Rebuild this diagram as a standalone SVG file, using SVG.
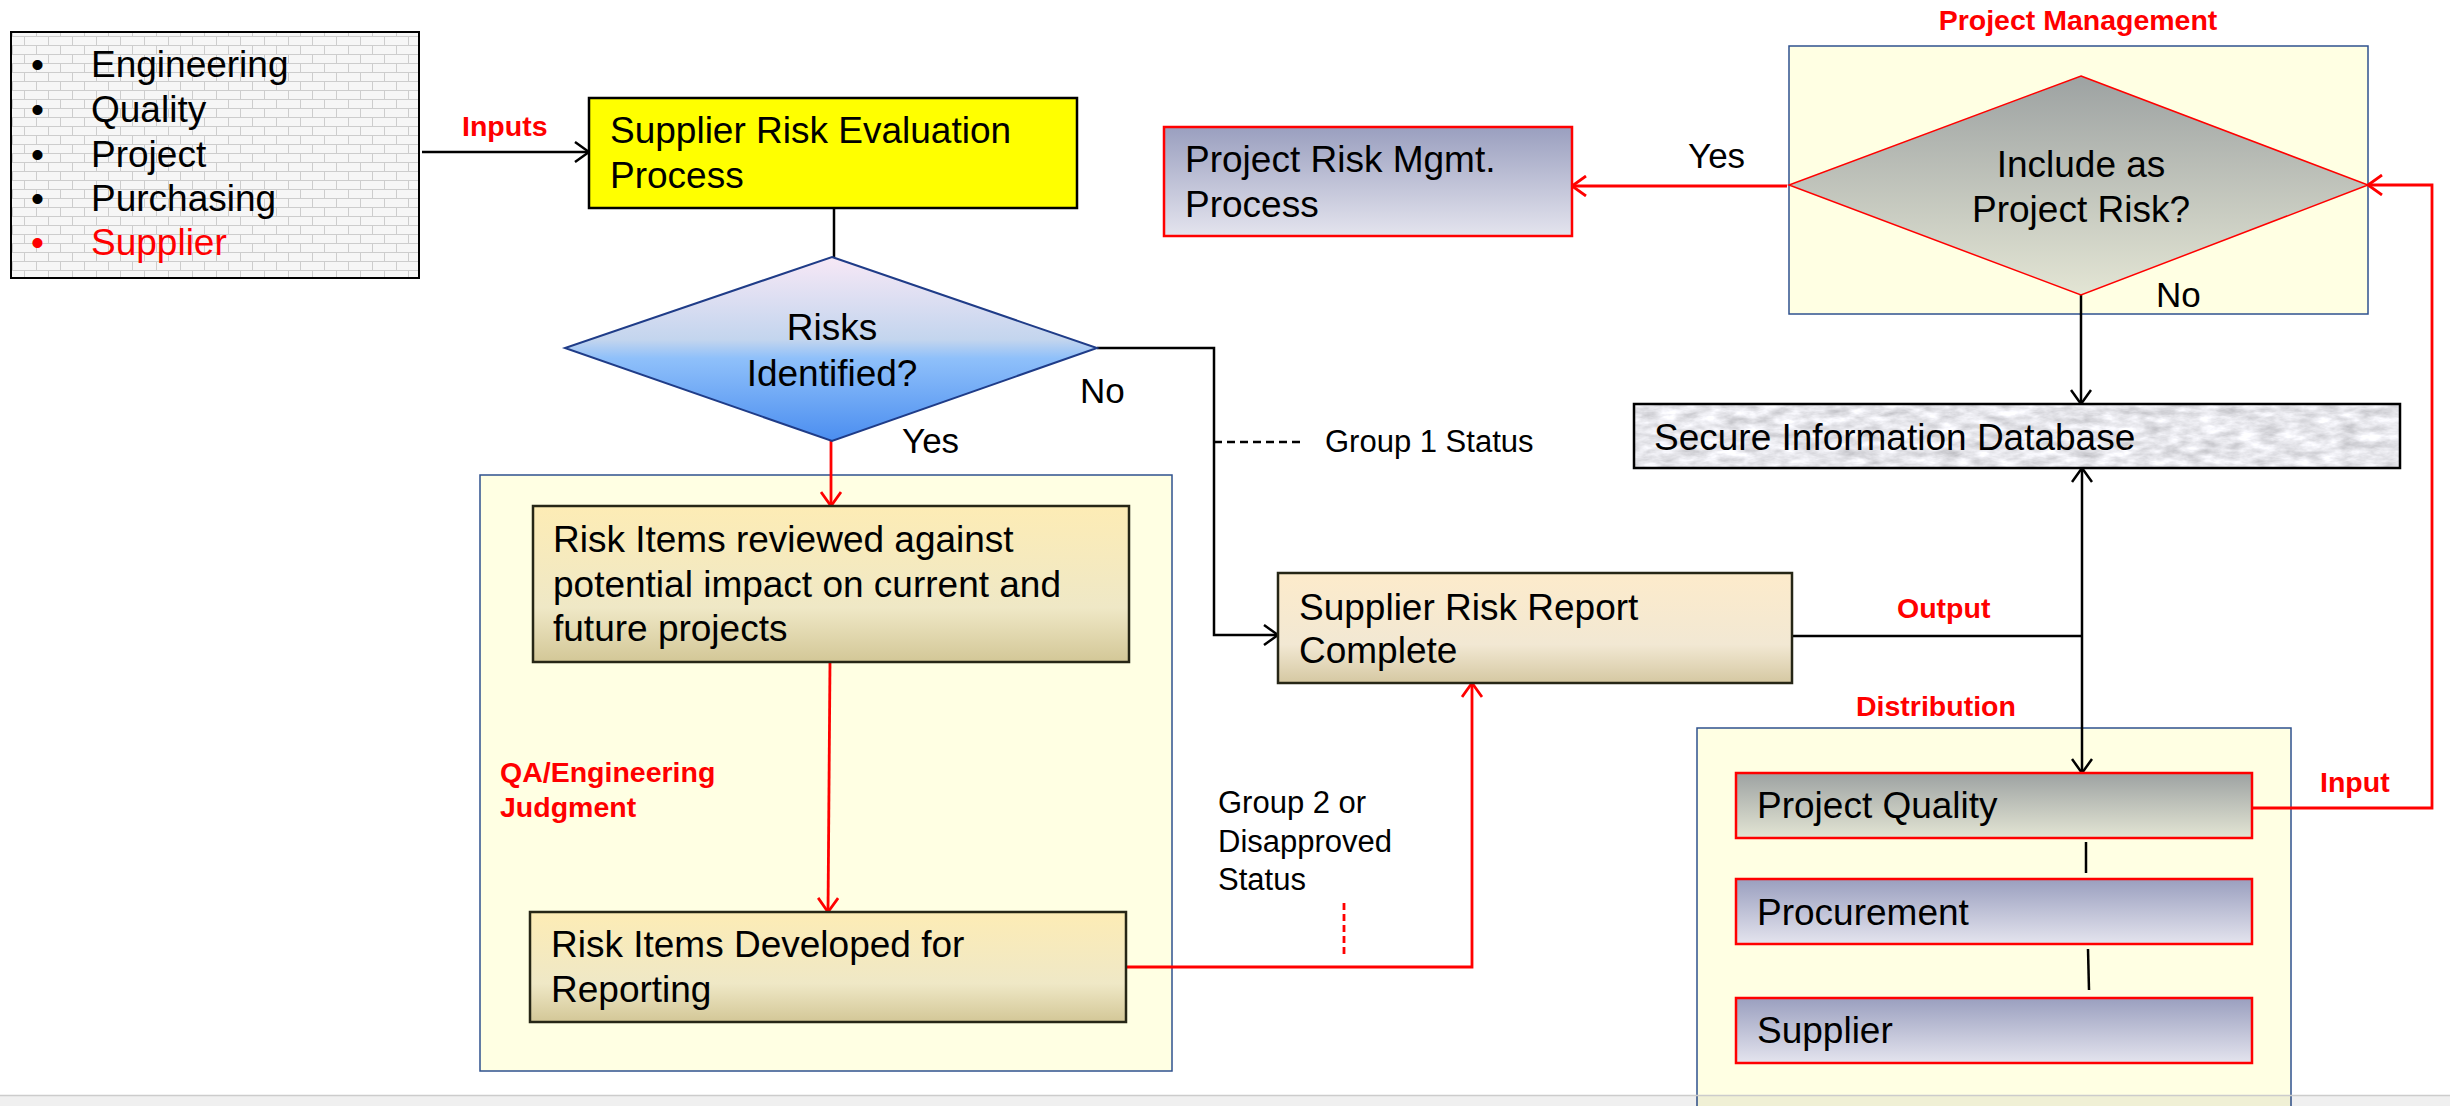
<svg xmlns="http://www.w3.org/2000/svg" width="2450" height="1106" viewBox="0 0 2450 1106">
<style>
text{font-family:"Liberation Sans",Arial,sans-serif;fill:#000}
.t{font-size:37px}
.b{font-size:37px}
.lbl{font-size:35px}
.sm{font-size:31px}
.red{font-size:28.5px;font-weight:bold;fill:#FF0000}
.cont{fill:#FFFFE3;stroke:#2F528F;stroke-width:1.5}
.blk{stroke:#000;stroke-width:2.5;fill:none}
.rd{stroke:#FF0000;stroke-width:2.8;fill:none}
.tan{stroke:#262616;stroke-width:2.5}
.rbox{stroke:#FF0000;stroke-width:2.5}
</style>
<defs>
<pattern id="brick" width="24" height="18" patternUnits="userSpaceOnUse">
<rect width="24" height="18" fill="#F6F6F6"/>
<path d="M0,0.5H24M0,9.5H24M0.5,0V9M12.5,9V18" stroke="#CDCDCD" stroke-width="1" fill="none"/>
</pattern>
<linearGradient id="gBlue" x1="0" y1="0" x2="0" y2="1">
<stop offset="0" stop-color="#F7E8F6"/><stop offset="0.45" stop-color="#C3D5EE"/><stop offset="0.55" stop-color="#8FC0FA"/><stop offset="1" stop-color="#4B8EF0"/>
</linearGradient>
<linearGradient id="gGray" x1="0" y1="0" x2="0" y2="1">
<stop offset="0" stop-color="#9DA2A2"/><stop offset="1" stop-color="#E3E5D4"/>
</linearGradient>
<linearGradient id="gLav" x1="0" y1="0" x2="0" y2="1">
<stop offset="0" stop-color="#9A9FBF"/><stop offset="1" stop-color="#E4E4EE"/>
</linearGradient>
<linearGradient id="gTan" x1="0" y1="0" x2="0" y2="1">
<stop offset="0" stop-color="#FDECB5"/><stop offset="0.65" stop-color="#EFE8C6"/><stop offset="1" stop-color="#D3C797"/>
</linearGradient>
<linearGradient id="gRep" x1="0" y1="0" x2="0" y2="1">
<stop offset="0" stop-color="#FDEBCB"/><stop offset="0.65" stop-color="#F2E8D3"/><stop offset="1" stop-color="#D5C8A2"/>
</linearGradient>
<filter id="marble" x="0" y="0" width="100%" height="100%" color-interpolation-filters="sRGB">
<feTurbulence type="fractalNoise" baseFrequency="0.05 0.12" numOctaves="4" seed="11" result="n"/>
<feColorMatrix in="n" type="matrix" values="-0.35 0 0 0 1.08  -0.35 0 0 0 1.08  -0.35 0 0 0 1.1  0 0 0 0 1" result="c"/>
<feComposite in="c" in2="SourceGraphic" operator="in"/>
</filter>
<marker id="ak" viewBox="0 0 16 22" refX="15" refY="11" markerWidth="16" markerHeight="22" markerUnits="userSpaceOnUse" orient="auto">
<path d="M1,1 L15,11 L1,21" fill="none" stroke="#000" stroke-width="2.5"/>
</marker>
<marker id="ar" viewBox="0 0 16 22" refX="15" refY="11" markerWidth="16" markerHeight="22" markerUnits="userSpaceOnUse" orient="auto">
<path d="M1,1 L15,11 L1,21" fill="none" stroke="#FF0000" stroke-width="2.8"/>
</marker>
</defs>
<rect width="2450" height="1106" fill="#FFFFFF"/>

<!-- containers -->
<g id="qa-container">
<rect class="cont" x="480" y="475" width="692" height="596"/>
<text class="red" x="500" y="782">QA/Engineering</text>
<text class="red" x="500" y="817">Judgment</text>
</g>
<g id="pm-container">
<rect class="cont" x="1789" y="46" width="579" height="268"/>
<text class="red" x="2078" y="30" text-anchor="middle">Project Management</text>
</g>
<g id="dist-container">
<rect class="cont" x="1697" y="728" width="594" height="400"/>
<text class="red" x="1856" y="716">Distribution</text>
</g>

<!-- connectors -->
<g id="connectors">
<line class="blk" x1="422" y1="152" x2="589" y2="152" marker-end="url(#ak)"/>
<line class="blk" x1="834" y1="208" x2="834" y2="257"/>
<polyline class="blk" points="1097,348 1214,348 1214,635 1278,635" marker-end="url(#ak)"/>
<line class="blk" x1="1214" y1="442" x2="1304" y2="442" stroke-dasharray="8,5" stroke-width="2"/>
<line class="rd" x1="831" y1="441" x2="831" y2="506" marker-end="url(#ar)"/>
<line class="rd" x1="830" y1="662" x2="828" y2="912" marker-end="url(#ar)"/>
<polyline class="rd" points="1126,967 1472,967 1472,683" marker-end="url(#ar)"/>
<line class="rd" x1="1344" y1="903" x2="1344" y2="958" stroke-dasharray="7,4" stroke-width="2"/>
<line class="rd" x1="1787" y1="186" x2="1572" y2="186" marker-end="url(#ar)"/>
<line class="blk" x1="2081" y1="295" x2="2081" y2="404" marker-end="url(#ak)"/>
<line class="blk" x1="1792" y1="636" x2="2082" y2="636"/>
<line class="blk" x1="2082" y1="636" x2="2082" y2="468" marker-end="url(#ak)"/>
<line class="blk" x1="2082" y1="636" x2="2082" y2="773" marker-end="url(#ak)"/>
<line class="blk" x1="2086" y1="842" x2="2086" y2="873"/>
<line class="blk" x1="2088" y1="949" x2="2089" y2="990"/>
<polyline class="rd" points="2252,808 2432,808 2432,185 2368,185" marker-end="url(#ar)"/>
<text class="red" x="462" y="136">Inputs</text>
<text class="red" x="1897" y="618">Output</text>
<text class="red" x="2320" y="792">Input</text>
<text class="lbl" x="1080" y="403">No</text>
<text class="lbl" x="902" y="453">Yes</text>
<text class="lbl" x="1688" y="168">Yes</text>
<text class="lbl" x="2156" y="307">No</text>
<text class="sm" x="1325" y="452">Group 1 Status</text>
<text class="sm" x="1218" y="813">Group 2 or</text>
<text class="sm" x="1218" y="852">Disapproved</text>
<text class="sm" x="1218" y="890">Status</text>
</g>

<!-- nodes -->
<g id="inputs-list">
<rect x="11" y="32" width="408" height="246" fill="url(#brick)" stroke="#000" stroke-width="2"/>
<text class="b" x="31" y="77">•</text><text class="b" x="91" y="77">Engineering</text>
<text class="b" x="31" y="122">•</text><text class="b" x="91" y="122">Quality</text>
<text class="b" x="31" y="167">•</text><text class="b" x="91" y="167">Project</text>
<text class="b" x="31" y="211">•</text><text class="b" x="91" y="211">Purchasing</text>
<text class="b" x="31" y="255" style="fill:#FF0000">•</text><text class="b" x="91" y="255" style="fill:#FF0000">Supplier</text>
</g>
<g id="supplier-risk-eval">
<rect x="589" y="98" width="488" height="110" fill="#FFFF00" stroke="#000" stroke-width="2.5"/>
<text class="t" x="610" y="143">Supplier Risk Evaluation</text>
<text class="t" x="610" y="188">Process</text>
</g>
<g id="risks-identified">
<polygon points="832,257 1097,348 832,441 565,348" fill="url(#gBlue)" stroke="#1F3C88" stroke-width="2"/>
<text class="t" x="832" y="340" text-anchor="middle">Risks</text>
<text class="t" x="832" y="386" text-anchor="middle">Identified?</text>
</g>
<g id="risk-items-reviewed">
<rect class="tan" x="533" y="506" width="596" height="156" fill="url(#gTan)"/>
<text class="t" x="553" y="552">Risk Items reviewed against</text>
<text class="t" x="553" y="597">potential impact on current and</text>
<text class="t" x="553" y="641">future projects</text>
</g>
<g id="risk-items-developed">
<rect class="tan" x="530" y="912" width="596" height="110" fill="url(#gTan)"/>
<text class="t" x="551" y="957">Risk Items Developed for</text>
<text class="t" x="551" y="1002">Reporting</text>
</g>
<g id="report-complete">
<rect class="tan" x="1278" y="573" width="514" height="110" fill="url(#gRep)"/>
<text class="t" x="1299" y="620">Supplier Risk Report</text>
<text class="t" x="1299" y="663">Complete</text>
</g>
<g id="project-risk-mgmt">
<rect class="rbox" x="1164" y="127" width="408" height="109" fill="url(#gLav)"/>
<text class="t" x="1185" y="172">Project Risk Mgmt.</text>
<text class="t" x="1185" y="217">Process</text>
</g>
<g id="include-project-risk">
<polygon points="2081,76 2368,185 2081,295 1789,185" fill="url(#gGray)" stroke="#FF0000" stroke-width="1.5"/>
<text class="t" x="2081" y="177" text-anchor="middle">Include as</text>
<text class="t" x="2081" y="222" text-anchor="middle">Project Risk?</text>
</g>
<g id="secure-db">
<rect x="1634" y="404" width="766" height="64" fill="#E8E8EC" filter="url(#marble)"/>
<rect x="1634" y="404" width="766" height="64" fill="none" stroke="#000" stroke-width="2.5"/>
<text class="t" x="1654" y="450">Secure Information Database</text>
</g>
<g id="project-quality">
<rect class="rbox" x="1736" y="773" width="516" height="65" fill="url(#gGray)"/>
<text class="t" x="1757" y="818">Project Quality</text>
</g>
<g id="procurement">
<rect class="rbox" x="1736" y="879" width="516" height="65" fill="url(#gLav)"/>
<text class="t" x="1757" y="925">Procurement</text>
</g>
<g id="supplier">
<rect class="rbox" x="1736" y="998" width="516" height="65" fill="url(#gLav)"/>
<text class="t" x="1757" y="1043">Supplier</text>
</g>
<rect x="0" y="1095" width="2450" height="11" fill="#000" fill-opacity="0.06"/>
<line x1="0" y1="1095.5" x2="2450" y2="1095.5" stroke="#CCCCCC" stroke-width="1.5"/>
</svg>
